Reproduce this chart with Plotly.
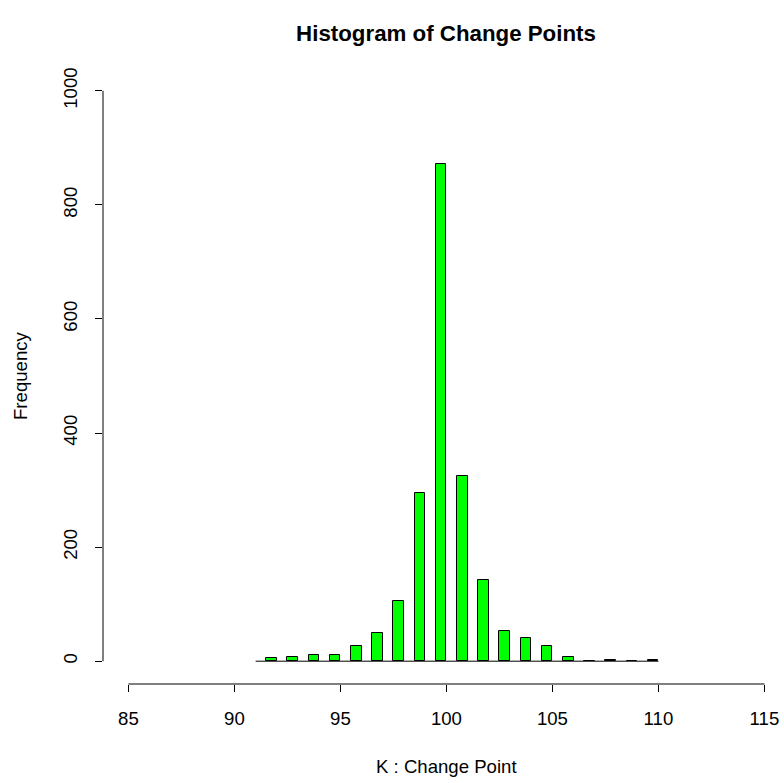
import plotly.graph_objects as go

# Change point values (integers) and their counts
k_values = [92, 93, 94, 95, 96, 97, 98, 99, 100, 101, 102, 103, 104, 105, 106, 107, 108, 109, 110]
counts = [5, 7, 11, 11, 27, 50, 105, 295, 872, 325, 142, 53, 41, 27, 7, 1, 2, 1, 2]
bin_width = 0.5
first_edge = 91
x_ticks = [85, 90, 95, 100, 105, 110, 115]
y_ticks = [0, 200, 400, 600, 800, 1000]

W, H = 784, 783
L, R, T, B = 103, 0, 68, 99
PW, PH = W - L - R, H - T - B
FONT = "Liberation Sans, Arial, sans-serif"
AX = 18.6

fig = go.Figure()

# baseline across all bins (zero-count bins drawn as flat lines, like R)
fig.add_trace(go.Scatter(
    x=[first_edge, k_values[-1]], y=[0, 0], mode="lines",
    line=dict(color="black", width=1), hoverinfo="skip", showlegend=False))

fig.add_trace(go.Bar(
    x=[k - bin_width / 2 for k in k_values], y=counts, width=bin_width,
    marker=dict(color="#00FF00", line=dict(color="black", width=1)),
    showlegend=False))

px_per_unit = 21.2
x0 = x_ticks[0] - 0.04 * (x_ticks[-1] - x_ticks[0])
x1 = x0 + PW / px_per_unit
yr = y_ticks[-1] - y_ticks[0]
cx = 446  # centre of R plot region (px)

fig.update_layout(
    width=W, height=H,
    margin=dict(l=L, r=R, t=T, b=B),
    paper_bgcolor="white", plot_bgcolor="white",
    font=dict(family=FONT, size=AX, color="black"),
    title=dict(text="<b>Histogram of Change Points</b>", x=cx / W, xanchor="center",
               y=1 - 33 / H, yanchor="middle", yref="container",
               font=dict(size=22.3, family=FONT, color="black")),
    xaxis=dict(range=[x0, x1], tickvals=x_ticks, ticks="outside", ticklen=7,
               tickcolor="black", showline=False, showgrid=False, zeroline=False,
               ticklabelstandoff=11),
    yaxis=dict(range=[y_ticks[0] - 0.04 * yr, y_ticks[-1] + 0.04 * yr], tickvals=y_ticks,
               ticks="outside", ticklen=7, tickcolor="black", tickangle=-90,
               showline=False, showgrid=False, zeroline=False, ticklabelstandoff=11),
    bargap=0,
    shapes=[
        dict(type="line", xref="x", yref="paper", x0=x_ticks[0], x1=x_ticks[-1], y0=0, y1=0,
             line=dict(color="black", width=1)),
        dict(type="line", xref="paper", yref="y", x0=0, x1=0, y0=y_ticks[0], y1=y_ticks[-1],
             line=dict(color="black", width=1)),
    ],
    annotations=[
        dict(text="K : Change Point", xref="paper", yref="paper",
             x=(cx - L) / PW, y=(T + PH - 766) / PH,
             showarrow=False, xanchor="center", yanchor="middle", font=dict(size=AX)),
        dict(text="Frequency", xref="paper", yref="paper", textangle=-90,
             x=(20 - L) / PW, y=0.5,
             showarrow=False, xanchor="center", yanchor="middle", font=dict(size=AX)),
    ],
)

fig.write_html("out.html")
